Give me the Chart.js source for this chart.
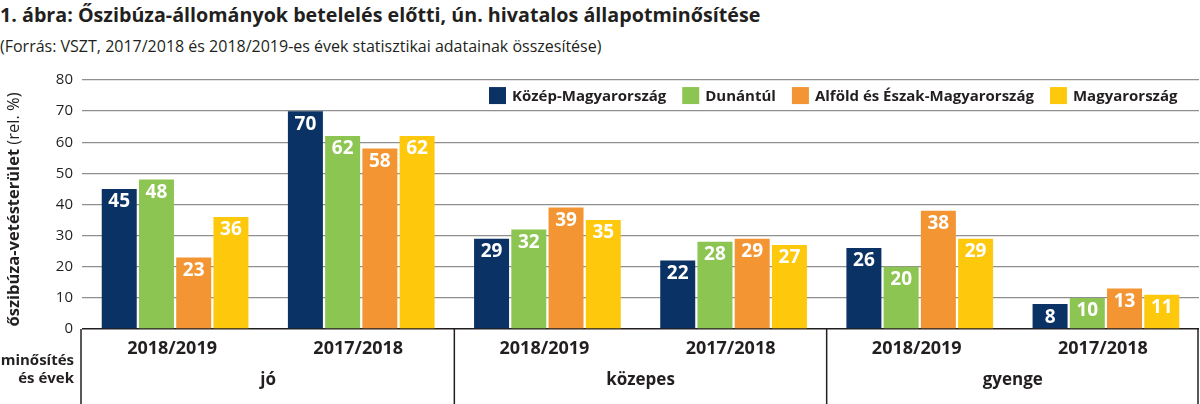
<!DOCTYPE html>
<html lang="hu">
<head>
<meta charset="utf-8">
<title>Őszibúza-állományok állapotminősítése</title>
<script src="https://cdn.jsdelivr.net/npm/chart.js@4.4.1/dist/chart.umd.min.js"></script>
<style>
    html, body { margin: 0; padding: 0; background: #fff; }
    body { width: 1200px; height: 404px; position: relative; overflow: hidden; font-family: "Open Sans", sans-serif; color: #231f20; }
    .chart-title { position: absolute; left: 0; top: 1px; font-size: 19.7px; font-weight: 700; white-space: nowrap; }
    .chart-subtitle { position: absolute; left: 0; top: 35px; font-size: 16px; white-space: nowrap; }
    #chartCanvas { position: absolute; left: 0; top: 0; }
</style>
</head>
<body>
<div class="chart-title">1. ábra: Őszibúza-állományok betelelés előtti, ún. hivatalos állapotminősítése</div>
<div class="chart-subtitle">(Forrás: VSZT, 2017/2018 és 2018/2019-es évek statisztikai adatainak összesítése)</div>
<canvas id="chartCanvas" width="1200" height="404"></canvas>
<script>
// Data
const yearLabels = ['2018/2019', '2017/2018', '2018/2019', '2017/2018', '2018/2019', '2017/2018'];
const ratingLabels = ['jó', 'közepes', 'gyenge'];
const seriesNames = ['Közép-Magyarország', 'Dunántúl', 'Alföld és Észak-Magyarország', 'Magyarország'];
const kozepMagyarorszag = [45, 70, 29, 22, 26, 8];
const dunantul = [48, 62, 32, 28, 20, 10];
const alfoldEszak = [23, 58, 39, 29, 38, 13];
const magyarorszag = [36, 62, 35, 27, 29, 11];
const seriesColors = ['#0b3264', '#8dc553', '#f39533', '#fec90c'];
const yAxisBold = 'őszibúza-vetésterület';
const yAxisNormal = ' (rel. %)';
const cornerLabel = ['minősítés', 'és évek'];

const FONT = '"Open Sans", sans-serif';
const INK = '#231f20';

// white value labels near the top of every bar
const barValues = {
    id: 'barValues',
    afterDatasetsDraw(chart) {
        const ctx = chart.ctx;
        ctx.save();
        ctx.fillStyle = '#fff';
        ctx.font = 'bold 19px ' + FONT;
        ctx.textAlign = 'center';
        ctx.textBaseline = 'middle';
        chart.data.datasets.forEach((ds, i) => {
            chart.getDatasetMeta(i).data.forEach((bar, j) => {
                ctx.fillText(String(ds.data[j]), bar.x, bar.y + 13);
            });
        });
        ctx.restore();
    }
};

// legend in the band between the 80 and 70 gridlines
const bandLegend = {
    id: 'bandLegend',
    afterDraw(chart) {
        const ctx = chart.ctx;
        const y = chart.scales.y;
        const top = y.getPixelForValue(80);
        const bottom = y.getPixelForValue(70);
        const mid = (top + bottom) / 2;
        const box = 17, gapText = 6, gapItem = 16;
        ctx.save();
        ctx.font = 'bold 15px ' + FONT;
        ctx.textBaseline = 'middle';
        let x = 489;
        chart.data.datasets.forEach(ds => {
            ctx.fillStyle = ds.backgroundColor;
            ctx.fillRect(x, mid - box / 2, box, box);
            x += box + gapText;
            ctx.fillStyle = INK;
            ctx.fillText(ds.label, x, mid + 1);
            x += ctx.measureText(ds.label).width + gapItem;
        });
        ctx.restore();
    }
};

// framed category table under the plot + y axis title
const tableAxis = {
    id: 'tableAxis',
    afterDraw(chart) {
        const ctx = chart.ctx;
        const area = chart.chartArea;
        const xs = chart.scales.x;
        const H = chart.height;
        const centers = yearLabels.map((_, i) => xs.getPixelForValue(i));
        ctx.save();
        ctx.strokeStyle = INK;
        ctx.lineWidth = 1.5;
        const edges = [area.left - 1, (centers[1] + centers[2]) / 2, (centers[3] + centers[4]) / 2, area.right - 1];
        edges.forEach(ex => {
            ctx.beginPath();
            ctx.moveTo(ex, area.bottom);
            ctx.lineTo(ex, H);
            ctx.stroke();
        });
        ctx.fillStyle = INK;
        ctx.textAlign = 'center';
        ctx.textBaseline = 'middle';
        ctx.font = 'bold 18px ' + FONT;
        yearLabels.forEach((lbl, i) => ctx.fillText(lbl, centers[i] - 3, area.bottom + 20));
        ctx.font = 'bold 17px ' + FONT;
        ratingLabels.forEach((lbl, i) => {
            ctx.fillText(lbl, (centers[2 * i] + centers[2 * i + 1]) / 2, area.bottom + 51);
        });
        ctx.textAlign = 'right';
        ctx.font = 'bold 15px ' + FONT;
        ctx.fillText(cornerLabel[0], 74, area.bottom + 32);
        ctx.fillText(cornerLabel[1], 74, area.bottom + 50);

        // rotated y axis title, bold part + normal part
        ctx.translate(14, (area.top + area.bottom) / 2 + 5);
        ctx.rotate(-Math.PI / 2);
        ctx.textAlign = 'left';
        ctx.font = 'bold 16.5px ' + FONT;
        const wb = ctx.measureText(yAxisBold).width;
        ctx.font = '16.5px ' + FONT;
        const wn = ctx.measureText(yAxisNormal).width;
        let start = -(wb + wn) / 2;
        ctx.font = 'bold 16.5px ' + FONT;
        ctx.fillText(yAxisBold, start, 0);
        ctx.font = '16.5px ' + FONT;
        ctx.fillText(yAxisNormal, start + wb, 0);
        ctx.restore();
    }
};

const ctx = document.getElementById('chartCanvas').getContext('2d');
new Chart(ctx, {
    type: 'bar',
    data: {
        labels: yearLabels,
        datasets: [kozepMagyarorszag, dunantul, alfoldEszak, magyarorszag].map((vals, i) => ({
            label: seriesNames[i],
            data: vals,
            backgroundColor: seriesColors[i],
            borderWidth: 0,
            categoryPercentage: 0.8,
            barPercentage: 0.94
        }))
    },
    options: {
        responsive: false,
        animation: false,
        layout: { padding: { top: 80, bottom: 75, right: 1, left: 0 } },
        plugins: {
            legend: { display: false },
            tooltip: { enabled: false }
        },
        scales: {
            x: { display: false },
            y: {
                min: 0,
                max: 80,
                ticks: { stepSize: 10, padding: 9, color: INK, font: { family: FONT, size: 15 } },
                border: { display: false },
                grid: {
                    drawTicks: false,
                    color: c => c.tick.value === 0 ? INK : '#8f8f8f',
                    lineWidth: c => c.tick.value === 0 ? 1.5 : 1.3
                },
                afterFit: scale => { scale.width = 82; }
            }
        }
    },
    plugins: [barValues, bandLegend, tableAxis]
});
</script>
</body>
</html>
